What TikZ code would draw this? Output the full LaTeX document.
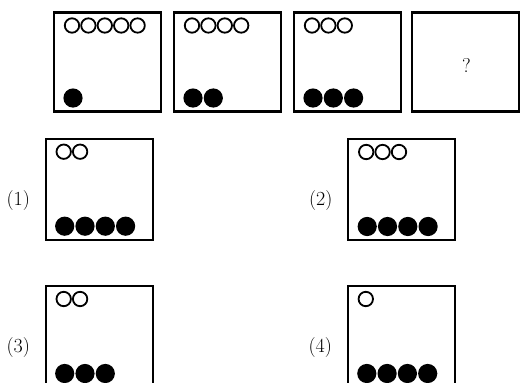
\documentclass[tikz,border=0pt]{standalone}
\usepackage{fontspec}
\usepackage{tikz}
\usetikzlibrary{calc}
\tikzstyle{panel}=[
	draw=black,
	line width=2.4pt,
	minimum width=107,
	minimum height=99,
	inner sep=0pt,
	outer sep=0pt
]
\tikzstyle{ring}=[
	draw=black,
	line width=1.8pt
]
\tikzstyle{bead}=[
	fill=black
]
\tikzstyle{cue}=[
	inner sep=0pt
]
\newcommand{\cuetext}[1]{\fontsize{20}{24}\selectfont #1}
% row of open rings along the top of a panel
\newcommand{\openrow}[2]{
    \foreach \k in {1,...,#2}{
        \draw[ring] ($(#1.north west)+({18+16.4*(\k-1)},13)$) circle (7.2pt);
    }
}
% row of black beads along the bottom of a panel
\newcommand{\fullrow}[2]{
    \foreach \k in {1,...,#2}{
        \fill[bead] ($(#1.south west)+({19+20.3*(\k-1)},-13.5)$) circle (9.6pt);
    }
}

\begin{document}
\begin{tikzpicture}[x=1pt, y=-1pt]
\useasboundingbox (0,0) rectangle (520,383);
\clip (0,0) rectangle (520,383);

% question row
\foreach \i/\cx/\nopen/\nfull in {1/107.5/5/1, 2/227.5/4/2, 3/347.5/3/3}{
    \node[panel] (q\i) at (\cx, 62) {};
    \openrow{q\i}{\nopen}
    \fullrow{q\i}{\nfull}
}
\node[panel] (q4) at (465.5, 62) {};
\node[cue] (qm) at ($(q4)+(1,3)$) {\cuetext{?}};

% answer choices
\foreach \n/\cx/\cy/\nopen/\nfull in {1/99.2/189.2/2/4, 2/401.7/189.5/3/4, 3/99.2/336.5/2/3, 4/401.3/336.5/1/4}{
    \node[panel, minimum height=101] (a\n) at (\cx, \cy) {};
    \node[cue] (l\n) at ($(a\n)+(-81,11)$) {\cuetext{(\n)}};
    \openrow{a\n}{\nopen}
    \fullrow{a\n}{\nfull}
}

\end{tikzpicture}
\end{document}
